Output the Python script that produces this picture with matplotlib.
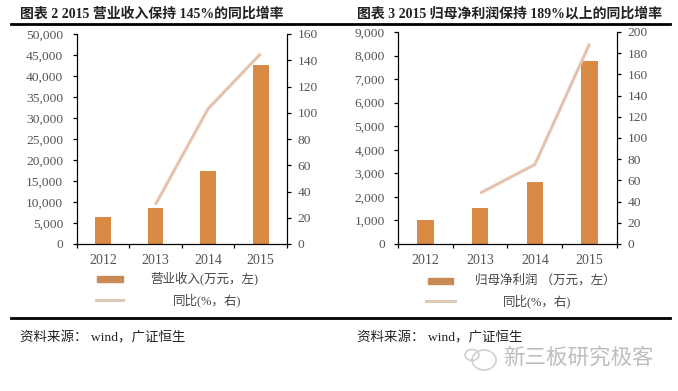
import matplotlib
matplotlib.use('Agg')
import matplotlib.pyplot as plt
from matplotlib.lines import Line2D
from matplotlib.patches import Rectangle, Ellipse

W, H = 678, 391
CJK = ['Liberation Serif', 'Noto Sans CJK SC', 'DejaVu Sans']
plt.rcParams['font.family'] = CJK

years = ['2012', '2013', '2014', '2015']
revenue = [6500, 8500, 17300, 42700]
revenue_yoy = [None, 30, 103, 145]
profit = [1000, 1520, 2650, 7750]
profit_yoy = [None, 48, 75, 189]

BAR = '#D98A45'
LINE = '#E3C3AE'
TXT = '#555555'

fig = plt.figure(figsize=(W / 100, H / 100), dpi=100, facecolor='white')


def fx(x):
    return x / W


def fy(y):
    return 1 - y / H


def panel(x0, x1, y0, y1, bars, yoy, lmax, lstep, rmax, rstep, barw):
    ax = fig.add_axes([fx(x0), fy(y1), (x1 - x0) / W, (y1 - y0) / H])
    xs = list(range(len(years)))
    ax.bar(xs, bars, width=barw, color=BAR, zorder=2)
    ax.set_xlim(-0.5, 3.5)
    ax.set_ylim(0, lmax)
    ax.set_yticks(range(0, lmax + 1, lstep))
    ax.set_yticklabels([f'{v:,}' for v in range(0, lmax + 1, lstep)])
    ax.set_xticks(xs)
    ax.set_xticklabels(years)
    ax.set_xticks([-0.5, 0.5, 1.5, 2.5, 3.5], minor=True)
    ax.tick_params(axis='x', which='major', length=0, labelsize=10, labelcolor=TXT, pad=7.5)
    ax.tick_params(axis='x', which='minor', length=3, width=0.9, direction='out')
    ax.tick_params(axis='y', length=3, width=0.9, labelsize=9.7, labelcolor=TXT, pad=6.5)
    ax.spines['top'].set_visible(False)
    ax2 = ax.twinx()
    px = [i for i, v in enumerate(yoy) if v is not None]
    py = [v for v in yoy if v is not None]
    ax2.plot(px, py, color=LINE, lw=2.2, zorder=3, solid_capstyle='butt')
    ax2.set_ylim(0, rmax)
    ax2.set_yticks(range(0, rmax + 1, rstep))
    ax2.tick_params(axis='y', length=3, width=0.9, labelsize=9.7, labelcolor=TXT, pad=4.5)
    ax2.spines['top'].set_visible(False)
    return ax


panel(76.5, 287, 34, 244, revenue, revenue_yoy, 50000, 5000, 160, 20, 0.3)
panel(398, 617, 32, 244, profit, profit_yoy, 9000, 1000, 200, 20, 0.3)

# Titles
fig.text(fx(20), fy(14), '图表 2 2015 营业收入保持 145%的同比增率', fontsize=10,
         fontweight='bold', color='#222222', va='center', ha='left')
fig.text(fx(357), fy(14), '图表 3 2015 归母净利润保持 189%以上的同比增率', fontsize=10,
         fontweight='bold', color='#222222', va='center', ha='left')

# Rules
for y in (24, 318):
    fig.add_artist(Line2D([fx(11), fx(670)], [fy(y), fy(y)], color='black', lw=2))

# Legends
fig.add_artist(Rectangle((fx(97), fy(282)), 26 / W, 6 / H, color='#C98A55',
                         transform=fig.transFigure))
fig.add_artist(Line2D([fx(96), fx(123)], [fy(300), fy(300)], color='#DCC9B5', lw=2.2))
fig.text(fx(204.5), fy(278), '营业收入(万元，左)', fontsize=9, color='#444444', ha='center', va='center')
fig.text(fx(207), fy(300), '同比(%，右)', fontsize=9, color='#444444', ha='center', va='center')

fig.add_artist(Rectangle((fx(428), fy(284)), 25 / W, 6 / H, color='#C98A55',
                         transform=fig.transFigure))
fig.add_artist(Line2D([fx(426), fx(455)], [fy(301), fy(301)], color='#DCC9B5', lw=2.2))
fig.text(fx(545), fy(280), '归母净利润 （万元，左）', fontsize=9, color='#444444', ha='center', va='center')
fig.text(fx(537), fy(301), '同比(%，右)', fontsize=9, color='#444444', ha='center', va='center')

# Sources
fig.text(fx(20), fy(338), '资料来源： wind，广证恒生', fontsize=9.7, color='#222222', ha='left', va='center')
fig.text(fx(357), fy(338), '资料来源： wind，广证恒生', fontsize=9.7, color='#222222', ha='left', va='center')

# Watermark
fig.text(fx(503), fy(358), '新三板研究极客', fontsize=15.5, color='#BDBDBD', ha='left', va='center',
         family=['Noto Sans CJK SC', 'DejaVu Sans'], fontweight='light')
fig.add_artist(Ellipse((fx(484), fy(360)), 24 / W, 20 / H, fill=False, ec='#CFCFCF', lw=1.2,
                       transform=fig.transFigure))
fig.add_artist(Ellipse((fx(472), fy(355)), 14 / W, 11 / H, fill=False, ec='#CFCFCF', lw=1.2,
                       transform=fig.transFigure))

fig.savefig('out.png', dpi=100, facecolor='white')
